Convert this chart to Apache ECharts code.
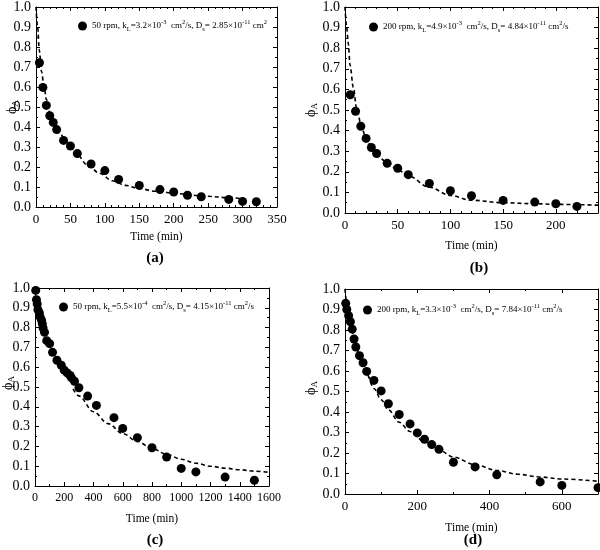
<!DOCTYPE html>
<html>
<head>
<meta charset="utf-8">
<script src="https://cdn.jsdelivr.net/npm/echarts@6/dist/echarts.min.js"></script>
<style>html,body{margin:0;padding:0;background:#fff}#c{width:600px;height:550px}</style>
</head>
<body>
<div id="c"></div>
<script>
// ---- data ----
const aTime = [5,10,15,20,25,30,40,50,60,80,100,120,150,180,200,220,240,280,300,320];
const aPhi  = [0.721,0.598,0.508,0.456,0.423,0.387,0.333,0.305,0.267,0.215,0.182,0.138,0.108,0.087,0.075,0.059,0.051,0.038,0.028,0.026];
const aFitT   = [0,2.4,4.8,8,12,15,20,27,35,44,58,75,92,111,130,150,173,207,245,283,300];
const aFitPhi = [1.0,0.898,0.784,0.677,0.595,0.538,0.472,0.407,0.366,0.325,0.267,0.21,0.169,0.131,0.108,0.092,0.079,0.066,0.054,0.046,0.041];

const bTime = [5,10,15,20,25,30,40,50,60,80,100,120,150,180,200,220];
const bPhi  = [0.574,0.494,0.421,0.362,0.318,0.289,0.241,0.217,0.186,0.143,0.108,0.084,0.061,0.053,0.045,0.032];
const bFitT   = [0,1.6,3.2,4.7,7.9,11,16,20,25,30,40,50,60,80,100,120,150,180,200,240];
const bFitPhi = [1.0,0.9,0.82,0.72,0.61,0.51,0.41,0.365,0.315,0.28,0.245,0.21,0.18,0.125,0.085,0.062,0.05,0.045,0.042,0.038];

const cTime = [5,10,15,20,30,35,45,50,55,65,80,100,120,150,180,200,220,240,250,270,300,360,420,540,600,700,800,900,1000,1100,1300,1500];
const cPhi  = [0.988,0.941,0.919,0.89,0.874,0.854,0.837,0.819,0.798,0.776,0.734,0.719,0.675,0.635,0.61,0.585,0.571,0.558,0.546,0.529,0.496,0.454,0.407,0.345,0.291,0.244,0.193,0.146,0.089,0.071,0.045,0.029];
const cFitT   = [260,300,400,500,600,700,800,900,1000,1100,1200,1300,1400,1500,1600];
const cFitPhi = [0.49,0.455,0.375,0.315,0.265,0.225,0.19,0.16,0.135,0.115,0.1,0.09,0.082,0.075,0.069];

const dTime = [2,5,10,15,20,25,30,40,50,60,80,100,120,150,180,200,220,240,260,300,360,420,540,600,700];
const dPhi  = [0.93,0.90,0.87,0.84,0.804,0.756,0.717,0.675,0.64,0.598,0.554,0.503,0.44,0.388,0.342,0.298,0.267,0.241,0.218,0.155,0.132,0.094,0.059,0.042,0.031];
const dFitT   = [0,5,10,20,30,40,60,80,100,120,150,180,220,260,300,360,420,480,540,600,700];
const dFitPhi = [1.0,0.93,0.87,0.79,0.725,0.67,0.585,0.515,0.46,0.41,0.35,0.305,0.255,0.215,0.18,0.143,0.115,0.096,0.083,0.073,0.062];

const legendTexts = [
  '50 rpm, k{sub|L}=3.2×10{sup|-3}  cm{sup|2}/s, D{sub|s}= 2.85×10{sup|-11} cm{sup|2}',
  '200 rpm, k{sub|L}=4.9×10{sup|-3}  cm{sup|2}/s, D{sub|s}= 4.84×10{sup|-11} cm{sup|2}/s',
  '50 rpm, k{sub|L}=5.5×10{sup|-4}  cm{sup|2}/s, D{sub|s}= 4.15×10{sup|-11} cm{sup|2}/s',
  '200 rpm, k{sub|L}=3.3×10{sup|-3}  cm{sup|2}/s, D{sub|s}= 7.84×10{sup|-11} cm{sup|2}/s'
];
const panelLabels = ['(a)','(b)','(c)','(d)'];
const xTitle = 'Time (min)';
const yTitle = 'ϕ{sub|A}';

// ---- layout ----
const FONT = 'Liberation Serif';
const panels = [
  {grid:{left:36,top:6,width:241,height:201}, xMax:350, xInt:50, xMinor:5, xFont:13, nameGap:24, legend:{left:78,top:19}, yName:[12,107], label:[155,258],
   pts:[aTime,aPhi], fit:[aFitT,aFitPhi]},
  {grid:{left:345,top:6,width:253,height:207}, xMax:240, xInt:50, xMinor:5, xFont:13, nameGap:27, legend:{left:369,top:20}, yName:[311,110], label:[479,268],
   pts:[bTime,bPhi], fit:[bFitT,bFitPhi]},
  {grid:{left:35,top:288,width:234,height:198}, xMax:1600, xInt:200, xMinor:2, xFont:12, nameGap:27, legend:{left:59,top:300}, yName:[8,383], label:[155,540],
   pts:[cTime,cPhi], fit:[cFitT,cFitPhi]},
  {grid:{left:345,top:289,width:253,height:205}, xMax:700, xInt:200, xMinor:2, xFont:13, nameGap:28, legend:{left:363,top:303}, yName:[311,388], label:[473,540],
   pts:[dTime,dPhi], fit:[dFitT,dFitPhi]}
];

const richSS = {
  sup:{fontSize:6.5, lineHeight:7, verticalAlign:'top', fontFamily:FONT, color:'#000'},
  sub:{fontSize:6.5, lineHeight:7, verticalAlign:'bottom', fontFamily:FONT, color:'#000'}
};

const grid=[], xAxis=[], yAxis=[], series=[], legend=[], graphic=[];
const lineBlack = {show:true, onZero:false, lineStyle:{color:'#000', width:1}};
panels.forEach((p,i)=>{
  grid.push(Object.assign({containLabel:false}, p.grid));
  xAxis.push({type:'value', gridIndex:i, min:0, max:p.xMax, interval:p.xInt, position:'bottom',
    axisLine:lineBlack, axisTick:{inside:true, length:4, lineStyle:{color:'#000'}},
    minorTick:{show:true, splitNumber:p.xMinor, length:2, lineStyle:{color:'#000'}},
    splitLine:{show:false}, minorSplitLine:{show:false},
    axisLabel:{fontFamily:FONT, fontSize:p.xFont, color:'#000', margin:6, showMaxLabel:(p.xMax % p.xInt===0), formatter:v=>String(v)},
    name:xTitle, nameLocation:'middle', nameGap:p.nameGap, nameTextStyle:{fontFamily:FONT, fontSize:11.5, color:'#000'}});
  yAxis.push({type:'value', gridIndex:i, min:0, max:1, interval:0.1, position:'left',
    axisLine:lineBlack, axisTick:{inside:true, length:4, lineStyle:{color:'#000'}},
    minorTick:{show:true, splitNumber:2, length:2, lineStyle:{color:'#000'}},
    splitLine:{show:false},
    axisLabel:{fontFamily:FONT, fontSize:14, color:'#000', margin:5, formatter:v=>v.toFixed(1)}});
  series.push({type:'line', name:'fit'+i, xAxisIndex:i, yAxisIndex:i, data:p.fit[0].map((t,k)=>[t,p.fit[1][k]]),
    showSymbol:false, smooth:0.35, smoothMonotone:'x', silent:true, z:2,
    lineStyle:{color:'#000', width:1.6, type:[4,3]}});
  series.push({type:'scatter', name:'exp'+i, xAxisIndex:i, yAxisIndex:i, data:p.pts[0].map((t,k)=>[t,p.pts[1][k]]),
    symbol:'circle', symbolSize:9, itemStyle:{color:'#000', opacity:1}, z:3});
  legend.push({data:['exp'+i], left:p.legend.left, top:p.legend.top, icon:'circle', itemWidth:9, itemHeight:9,
    itemGap:0, padding:0, formatter:()=>legendTexts[i], selectedMode:false,
    itemStyle:{color:'#000', opacity:1},
    textStyle:{fontFamily:FONT, fontSize:9, color:'#000', lineHeight:14, rich:richSS}});
  graphic.push({type:'text', x:p.yName[0], y:p.yName[1], rotation:Math.PI/2,
    style:{text:yTitle, fontFamily:FONT, fontSize:14, fill:'#000', align:'center', verticalAlign:'middle', lineHeight:16,
      rich:{sub:{fontSize:9, lineHeight:8, verticalAlign:'bottom', fontFamily:FONT, fill:'#000'}}}});
  graphic.push({type:'text', x:p.label[0], y:p.label[1],
    style:{text:panelLabels[i], fontFamily:FONT, fontSize:15, fontWeight:'bold', fill:'#000', align:'center', verticalAlign:'middle'}});
});
// top and right axes (ticks only) to close the frame
panels.forEach((p,i)=>{
  xAxis.push({type:'value', gridIndex:i, min:0, max:p.xMax, interval:p.xInt, position:'top',
    axisLine:lineBlack, axisTick:{inside:true, length:4, lineStyle:{color:'#000'}},
    minorTick:{show:true, splitNumber:p.xMinor, length:2, lineStyle:{color:'#000'}},
    splitLine:{show:false}, axisLabel:{show:false}});
  yAxis.push({type:'value', gridIndex:i, min:0, max:1, interval:0.1, position:'right',
    axisLine:lineBlack, axisTick:{inside:true, length:4, lineStyle:{color:'#000'}},
    minorTick:{show:true, splitNumber:2, length:2, lineStyle:{color:'#000'}},
    splitLine:{show:false}, axisLabel:{show:false}});
});

const chart = echarts.init(document.getElementById('c'), null, {renderer:'canvas'});
chart.setOption({animation:false, backgroundColor:'#fff', grid, xAxis, yAxis, series, legend, graphic});
</script>
</body>
</html>
